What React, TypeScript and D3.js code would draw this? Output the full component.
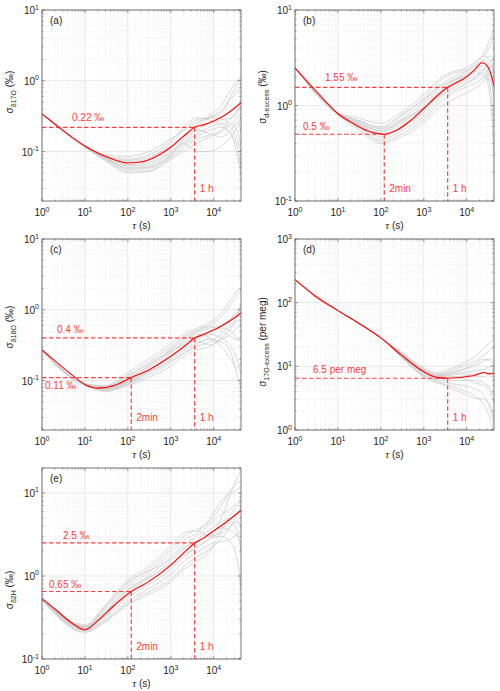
import React from 'react';
import * as d3 from 'd3';

// averaging times (s) used for the individual (grey) Allan deviation curves
const TAU_GRID = [1, 10, 30, 100, 300, 1000, 2000, 4000, 8000, 15000, 25000, 35000, 43200];

// (a) d17O
const A_TAU = [1, 2, 5, 10, 20, 50, 100, 200, 500, 1000, 2000, 3600, 6000, 10000, 20000, 43200];
const A_MEAN = [0.34, 0.245, 0.16, 0.12, 0.095, 0.076, 0.069, 0.071, 0.088, 0.115, 0.165, 0.22, 0.24, 0.27, 0.34, 0.49];
const A_GRAY = [
  [0.34, 0.12, 0.09, 0.085, 0.1, 0.15, 0.2, 0.26, 0.3, 0.35, 0.6, 0.9, 1.15],
  [0.34, 0.12, 0.088, 0.075, 0.085, 0.12, 0.17, 0.24, 0.32, 0.45, 0.75, 1.0, 1.05],
  [0.34, 0.118, 0.085, 0.07, 0.075, 0.11, 0.16, 0.22, 0.3, 0.38, 0.55, 0.7, 0.85],
  [0.34, 0.117, 0.083, 0.065, 0.07, 0.1, 0.14, 0.2, 0.25, 0.28, 0.3, 0.35, 0.45],
  [0.34, 0.116, 0.08, 0.06, 0.062, 0.09, 0.13, 0.18, 0.22, 0.25, 0.22, 0.15, 0.1],
  [0.34, 0.115, 0.078, 0.056, 0.058, 0.085, 0.12, 0.16, 0.2, 0.22, 0.18, 0.09, 0.045],
  [0.34, 0.115, 0.076, 0.053, 0.054, 0.08, 0.11, 0.15, 0.17, 0.2, 0.3, 0.38, 0.55],
  [0.34, 0.114, 0.074, 0.05, 0.052, 0.078, 0.1, 0.13, 0.16, 0.19, 0.24, 0.2, 0.12],
  [0.34, 0.118, 0.086, 0.072, 0.08, 0.13, 0.2, 0.28, 0.3, 0.29, 0.25, 0.3, 0.35],
  [0.34, 0.12, 0.087, 0.078, 0.09, 0.14, 0.22, 0.3, 0.28, 0.24, 0.18, 0.12, 0.06],
  [0.34, 0.116, 0.082, 0.063, 0.066, 0.095, 0.13, 0.1, 0.1, 0.12, 0.16, 0.22, 0.3],
  [0.34, 0.117, 0.08, 0.058, 0.06, 0.088, 0.15, 0.2, 0.18, 0.16, 0.2, 0.26, 0.2],
];

// (b) d-excess
const B_TAU = [1, 2, 5, 10, 20, 50, 120, 250, 500, 1000, 2000, 3600, 6000, 10000, 15000, 23000, 30000, 37000, 43200];
const B_MEAN = [2.48, 1.75, 1.12, 0.82, 0.67, 0.54, 0.5, 0.56, 0.7, 0.93, 1.25, 1.55, 1.75, 2.0, 2.35, 2.8, 2.6, 2.1, 1.6];
const B_GRAY = [
  [2.48, 0.84, 0.74, 0.65, 0.85, 1.3, 1.8, 2.2, 2.4, 2.8, 3.5, 5.0, 6.5],
  [2.48, 0.83, 0.7, 0.6, 0.78, 1.2, 1.7, 2.1, 2.3, 2.6, 3.2, 4.2, 5.5],
  [2.48, 0.83, 0.68, 0.57, 0.72, 1.1, 1.55, 1.9, 2.2, 2.5, 3.0, 3.3, 3.0],
  [2.48, 0.82, 0.66, 0.54, 0.68, 1.0, 1.45, 1.8, 2.0, 2.3, 2.9, 2.6, 2.2],
  [2.48, 0.82, 0.64, 0.5, 0.62, 0.9, 1.3, 1.65, 1.9, 2.2, 2.6, 2.0, 1.2],
  [2.48, 0.81, 0.62, 0.47, 0.58, 0.85, 1.2, 1.55, 1.8, 2.0, 2.4, 1.6, 0.6],
  [2.48, 0.81, 0.6, 0.44, 0.54, 0.78, 1.1, 1.45, 1.7, 1.9, 2.2, 1.2, 0.3],
  [2.48, 0.8, 0.58, 0.42, 0.5, 0.72, 1.0, 1.3, 1.5, 1.7, 2.0, 2.5, 2.8],
  [2.48, 0.8, 0.56, 0.4, 0.47, 0.66, 0.9, 1.1, 1.3, 1.5, 1.8, 2.2, 2.4],
  [2.48, 0.82, 0.65, 0.55, 0.7, 0.95, 1.2, 1.4, 1.6, 1.9, 2.4, 2.9, 3.2],
  [2.48, 0.83, 0.69, 0.58, 0.8, 1.15, 1.5, 1.75, 2.1, 2.7, 3.3, 3.0, 2.0],
  [2.48, 0.81, 0.63, 0.52, 0.66, 0.95, 1.35, 1.7, 2.0, 2.3, 2.0, 1.8, 1.5],
];

// (c) d18O
const C_TAU = [1, 2, 5, 10, 20, 50, 120, 300, 1000, 2000, 3600, 6000, 10000, 20000, 43200];
const C_MEAN = [0.27, 0.19, 0.12, 0.088, 0.078, 0.086, 0.11, 0.14, 0.22, 0.3, 0.4, 0.45, 0.52, 0.65, 0.9];
const C_GRAY = [
  [0.27, 0.09, 0.085, 0.13, 0.2, 0.33, 0.45, 0.55, 0.65, 0.9, 1.4, 1.8, 2.1],
  [0.27, 0.089, 0.083, 0.12, 0.18, 0.3, 0.42, 0.5, 0.6, 0.8, 1.2, 1.6, 1.9],
  [0.27, 0.088, 0.08, 0.11, 0.16, 0.27, 0.38, 0.48, 0.55, 0.6, 0.75, 1.0, 1.1],
  [0.27, 0.087, 0.078, 0.1, 0.15, 0.25, 0.34, 0.42, 0.5, 0.55, 0.5, 0.4, 0.35],
  [0.27, 0.087, 0.076, 0.095, 0.14, 0.22, 0.3, 0.38, 0.45, 0.4, 0.3, 0.2, 0.12],
  [0.27, 0.086, 0.074, 0.09, 0.13, 0.2, 0.27, 0.34, 0.38, 0.35, 0.25, 0.12, 0.08],
  [0.27, 0.086, 0.072, 0.088, 0.12, 0.18, 0.24, 0.3, 0.35, 0.45, 0.6, 0.7, 0.75],
  [0.27, 0.085, 0.07, 0.085, 0.11, 0.16, 0.22, 0.27, 0.3, 0.38, 0.45, 0.55, 0.6],
  [0.27, 0.088, 0.079, 0.105, 0.16, 0.28, 0.4, 0.52, 0.58, 0.5, 0.42, 0.38, 0.4],
  [0.27, 0.087, 0.077, 0.098, 0.14, 0.24, 0.36, 0.45, 0.4, 0.3, 0.2, 0.15, 0.18],
  [0.27, 0.089, 0.082, 0.115, 0.17, 0.26, 0.32, 0.36, 0.32, 0.4, 0.55, 0.8, 1.2],
  [0.27, 0.086, 0.075, 0.093, 0.13, 0.19, 0.25, 0.32, 0.42, 0.6, 0.75, 0.9, 1.0],
];

// (d) 17O-excess (per meg)
const D_TAU = [1, 3, 10, 30, 100, 300, 1000, 2000, 3600, 6000, 10000, 15000, 25000, 35000, 43200];
const D_MEAN = [230, 125, 75, 48, 28, 15, 8.2, 6.7, 6.5, 6.6, 6.9, 7.2, 8.0, 7.6, 7.7];
const D_GRAY = [
  [230, 75, 48, 28, 17, 9.5, 8, 9, 11, 14, 19, 24, 27],
  [230, 75, 48, 28, 16.5, 9, 7.6, 8.5, 10, 12, 15, 18, 20],
  [230, 75, 48, 28, 16, 8.6, 7.2, 8, 9, 10, 12, 13, 12],
  [230, 75, 48, 28, 15.5, 8.2, 7, 7.5, 8, 8.5, 9, 10, 11],
  [230, 75, 48, 28, 15, 7.8, 6.6, 6.8, 7, 7.5, 8, 7, 6],
  [230, 75, 48, 28, 14.5, 7.4, 6.2, 6, 6, 6, 5.5, 4.5, 3.5],
  [230, 75, 48, 28, 14, 7, 5.8, 5.4, 5, 4.5, 3.5, 2.2, 1.2],
  [230, 75, 48, 28, 13.8, 6.8, 5.5, 5, 4.2, 3.5, 2.5, 1.5, 0.8],
  [230, 75, 48, 28, 14.2, 7.2, 6, 4.6, 3.8, 3.2, 3, 2.5, 1.5],
  [230, 75, 48, 28, 15.8, 8.5, 7.2, 7, 6.5, 5.5, 5, 4, 2.5],
  [230, 75, 48, 28, 16.2, 8.8, 7.4, 7.8, 8.8, 11, 13, 12, 10],
  [230, 75, 48, 28, 15.2, 8, 6.8, 7.2, 7.6, 7, 6.8, 8, 9],
];

// (e) d2H
const E_TAU = [1, 2, 5, 10, 20, 50, 120, 300, 1000, 2000, 3600, 6000, 10000, 20000, 43200];
const E_MEAN = [0.53, 0.4, 0.27, 0.225, 0.29, 0.45, 0.65, 0.85, 1.35, 1.9, 2.5, 2.9, 3.5, 4.5, 6.2];
const E_GRAY = [
  [0.56, 0.26, 0.45, 0.9, 1.3, 2.3, 3.3, 3.5, 3.0, 5.0, 10, 15, 19],
  [0.55, 0.25, 0.42, 0.82, 1.2, 2.1, 3.0, 3.6, 4.5, 7.0, 11, 13, 14],
  [0.55, 0.245, 0.4, 0.76, 1.1, 1.9, 2.7, 3.3, 4.8, 8.0, 10, 11, 12],
  [0.54, 0.24, 0.38, 0.7, 1.0, 1.7, 2.4, 3.0, 4.2, 5.5, 6.5, 7.5, 8.5],
  [0.54, 0.235, 0.36, 0.65, 0.92, 1.5, 2.1, 2.7, 3.6, 4.5, 5.0, 5.5, 6.0],
  [0.53, 0.23, 0.34, 0.6, 0.85, 1.35, 1.9, 2.5, 3.2, 3.8, 3.5, 3.0, 2.5],
  [0.53, 0.225, 0.32, 0.55, 0.78, 1.2, 1.7, 2.2, 2.8, 3.0, 2.5, 1.6, 0.7],
  [0.52, 0.22, 0.3, 0.5, 0.7, 1.05, 1.5, 1.9, 2.4, 2.6, 2.8, 3.2, 3.5],
  [0.52, 0.215, 0.29, 0.47, 0.64, 0.92, 1.3, 1.7, 2.1, 2.8, 4.0, 5.5, 7.0],
  [0.51, 0.21, 0.28, 0.45, 0.6, 0.85, 1.2, 1.5, 2.0, 3.5, 5.5, 7.0, 8.0],
  [0.55, 0.25, 0.43, 0.85, 1.15, 1.6, 2.2, 2.6, 3.0, 3.3, 4.0, 4.5, 4.0],
  [0.54, 0.24, 0.37, 0.68, 0.95, 1.4, 1.8, 2.2, 2.8, 3.6, 4.5, 3.5, 2.0],
];

// reference levels: [value, averaging time]
const A_LEVELS = [[0.22, 3600]];
const B_LEVELS = [[1.55, 3600], [0.5, 120]];
const C_LEVELS = [[0.4, 3600], [0.11, 120]];
const D_LEVELS = [[6.5, 3600]];
const E_LEVELS = [[2.5, 3600], [0.65, 120]];

const X_DOMAIN = [1, 43200];
const PW = 199;
const PH = 191;
const RED = '#ff0000';
const RED_SOFT = '#ff4040';
const FONT = 'Liberation Sans, Arial, Helvetica, sans-serif';

function timeLabel(t) {
  return t === 3600 ? '1 h' : '2min';
}

function Panel({ cfg }) {
  const { id, left, top, yDomain, tau, mean, gray, levels, levelText, labelPos, ylab, ylabY } = cfg;
  const x = d3.scaleLog().domain(X_DOMAIN).range([left, left + PW]);
  const y = d3.scaleLog().domain(yDomain).range([top + PH, top]);
  const bottom = top + PH;
  const right = left + PW;

  const line = d3.line().x((d) => x(d[0])).y((d) => y(d[1])).curve(d3.curveMonotoneX);

  const xMajor = [1, 10, 100, 1000, 10000];
  const xMinor = [];
  for (let e = 0; e <= 4; e++) for (let k = 2; k <= 9; k++) { const v = k * 10 ** e; if (v < X_DOMAIN[1]) xMinor.push(v); }
  const yMajor = [];
  const yMinor = [];
  for (let e = Math.floor(Math.log10(yDomain[0])); e <= Math.ceil(Math.log10(yDomain[1])); e++) {
    for (let k = 1; k <= 9; k++) {
      const v = k * 10 ** e;
      if (v < yDomain[0] * 0.999 || v > yDomain[1] * 1.001) continue;
      if (k === 1) yMajor.push(v); else yMinor.push(v);
    }
  }

  const clipId = `clip-${id}`;
  const axisCol = '#595959';
  const majGrid = '#dedede';
  const minGrid = '#e4e4e4';

  return (
    <g>
      <defs>
        <clipPath id={clipId}><rect x={left} y={top} width={PW} height={PH} /></clipPath>
      </defs>
      <rect x={left} y={top} width={PW} height={PH} fill="#fff" />
      {/* minor grid */}
      {xMinor.map((v) => (
        <line key={`xm${v}`} x1={x(v)} x2={x(v)} y1={top} y2={bottom} stroke={minGrid} strokeWidth={0.6} strokeDasharray="1,1.5" />
      ))}
      {yMinor.map((v) => (
        <line key={`ym${v}`} x1={left} x2={right} y1={y(v)} y2={y(v)} stroke={minGrid} strokeWidth={0.6} strokeDasharray="1,1.5" />
      ))}
      {/* major grid */}
      {xMajor.map((v) => (
        <line key={`xg${v}`} x1={x(v)} x2={x(v)} y1={top} y2={bottom} stroke={majGrid} strokeWidth={0.7} />
      ))}
      {yMajor.map((v) => (
        <line key={`yg${v}`} x1={left} x2={right} y1={y(v)} y2={y(v)} stroke={majGrid} strokeWidth={0.7} />
      ))}

      <g clipPath={`url(#${clipId})`}>
        {gray.map((g, i) => (
          <path key={i} d={line(TAU_GRID.map((t, j) => [t, g[j]]))} fill="none" stroke="#c9c9c9" strokeWidth={0.7} />
        ))}
        {levels.map(([v, t], i) => (
          <g key={`lv${i}`}>
            <line x1={left} x2={x(t)} y1={y(v)} y2={y(v)} stroke={RED_SOFT} strokeWidth={1.2} strokeDasharray="4.5,2.5" />
            <line x1={x(t)} x2={x(t)} y1={y(v)} y2={bottom} stroke={RED_SOFT} strokeWidth={1.2} strokeDasharray="4.5,2.5" />
          </g>
        ))}
        <path d={line(tau.map((t, j) => [t, mean[j]]))} fill="none" stroke={RED} strokeWidth={1.1} />
      </g>

      {/* annotations */}
      {levels.map(([v, t], i) => (
        <g key={`lt${i}`} fontFamily={FONT} fontSize={10} fill={RED_SOFT}>
          <text x={left + labelPos[i][0]} y={y(v) + labelPos[i][1]} dominantBaseline="middle">{levelText[i]}</text>
          <text x={x(t) + 5} y={bottom - 12} dominantBaseline="middle">{timeLabel(t)}</text>
        </g>
      ))}

      {/* ticks */}
      {xMajor.map((v) => (
        <g key={`xt${v}`}>
          <line x1={x(v)} x2={x(v)} y1={bottom} y2={bottom - 3} stroke={axisCol} strokeWidth={0.6} />
          <line x1={x(v)} x2={x(v)} y1={top} y2={top + 3} stroke={axisCol} strokeWidth={0.6} />
        </g>
      ))}
      {xMinor.map((v) => (
        <g key={`xmt${v}`}>
          <line x1={x(v)} x2={x(v)} y1={bottom} y2={bottom - 1.6} stroke={axisCol} strokeWidth={0.5} />
          <line x1={x(v)} x2={x(v)} y1={top} y2={top + 1.6} stroke={axisCol} strokeWidth={0.5} />
        </g>
      ))}
      {yMajor.map((v) => (
        <g key={`yt${v}`}>
          <line x1={left} x2={left + 3} y1={y(v)} y2={y(v)} stroke={axisCol} strokeWidth={0.6} />
          <line x1={right} x2={right - 3} y1={y(v)} y2={y(v)} stroke={axisCol} strokeWidth={0.6} />
        </g>
      ))}
      {yMinor.map((v) => (
        <g key={`ymt${v}`}>
          <line x1={left} x2={left + 1.6} y1={y(v)} y2={y(v)} stroke={axisCol} strokeWidth={0.5} />
          <line x1={right} x2={right - 1.6} y1={y(v)} y2={y(v)} stroke={axisCol} strokeWidth={0.5} />
        </g>
      ))}
      <rect x={left} y={top} width={PW} height={PH} fill="none" stroke={axisCol} strokeWidth={0.8} />

      {/* tick labels */}
      <g fontFamily={FONT} fontSize={10} fill="#262626">
        {xMajor.map((v) => (
          <text key={`xl${v}`} x={x(v)} y={bottom + 15} textAnchor="middle">
            10<tspan dy={-4.5} fontSize={7}>{Math.round(Math.log10(v))}</tspan>
          </text>
        ))}
        {yMajor.map((v) => (
          <text key={`yl${v}`} x={left - 3} y={y(v) + 4} textAnchor="end">
            10<tspan dy={-4.5} fontSize={7}>{Math.round(Math.log10(v))}</tspan>
          </text>
        ))}
        <text x={(left + right) / 2} y={bottom + 28} textAnchor="middle">
          <tspan fontFamily="Liberation Serif, serif" fontStyle="italic" fontSize={11}>τ</tspan> (s)
        </text>
        <text x={left + 8} y={top + 14}>({id})</text>
        <text transform={`translate(${left - 29},${top + ylabY}) rotate(-90)`} textAnchor="middle">
          σ<tspan dy={2.5} fontSize={7}>{ylab[0]}</tspan><tspan dy={-2.5}> {ylab[1]}</tspan>
        </text>
      </g>
    </g>
  );
}

const COLS = [42, 295];
const ROWS = [10, 239, 468];

const PANELS = [
  {
    id: 'a', left: COLS[0], top: ROWS[0], yDomain: [0.02, 10], tau: A_TAU, mean: A_MEAN, gray: A_GRAY,
    levels: A_LEVELS, levelText: ['0.22 ‰'], labelPos: [[30, -9]], ylab: ['δ17O', '(‰)'], ylabY: 82,
  },
  {
    id: 'b', left: COLS[1], top: ROWS[0], yDomain: [0.1, 10], tau: B_TAU, mean: B_MEAN, gray: B_GRAY,
    levels: B_LEVELS, levelText: ['1.55 ‰', '0.5 ‰'], labelPos: [[30, -9], [8, -7]], ylab: ['d-excess', '(‰)'], ylabY: 87,
  },
  {
    id: 'c', left: COLS[0], top: ROWS[1], yDomain: [0.02, 10], tau: C_TAU, mean: C_MEAN, gray: C_GRAY,
    levels: C_LEVELS, levelText: ['0.4 ‰', '0.11 ‰'], labelPos: [[15, -8], [3, 9]], ylab: ['δ18O', '(‰)'], ylabY: 88,
  },
  {
    id: 'd', left: COLS[1], top: ROWS[1], yDomain: [1, 1000], tau: D_TAU, mean: D_MEAN, gray: D_GRAY,
    levels: D_LEVELS, levelText: ['6.5 per meg'], labelPos: [[18, -8]], ylab: ['17O-excess', '(per meg)'], ylabY: 103,
  },
  {
    id: 'e', left: COLS[0], top: ROWS[2], yDomain: [0.1, 20], tau: E_TAU, mean: E_MEAN, gray: E_GRAY,
    levels: E_LEVELS, levelText: ['2.5 ‰', '0.65 ‰'], labelPos: [[21, -7], [7, -6]], ylab: ['δ2H', '(‰)'], ylabY: 122,
  },
];

export default function App() {
  return (
    <svg width={500} height={691} style={{ position: 'absolute', left: 0, top: 0, background: '#fff' }}>
      <rect width={500} height={691} fill="#fff" />
      {PANELS.map((p) => <Panel key={p.id} cfg={p} />)}
    </svg>
  );
}
